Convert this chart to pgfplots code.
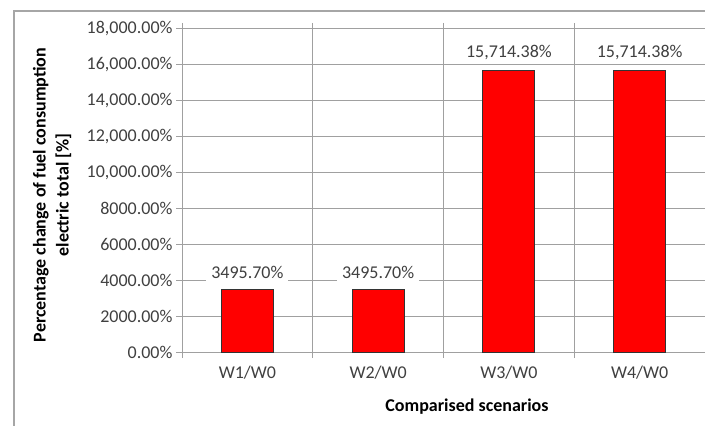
\documentclass[border=0pt]{standalone}
\usepackage{fontspec}
\setmainfont{Carlito}
\usepackage{pgfplots}
\pgfplotsset{compat=1.18}
\definecolor{gridgray}{RGB}{160,160,160}
\definecolor{framegray}{RGB}{166,166,166}
\definecolor{barred}{RGB}{255,0,0}
\definecolor{ticktext}{RGB}{64,64,64}
\begin{document}
\begin{tikzpicture}[x=1bp,y=1bp]
\path[use as bounding box] (0,0) rectangle (705,425);
% outer chart frame
\draw[framegray, line width=1.5bp] (14,-20) rectangle (740,414);
\begin{axis}[
  at={(182bp,73bp)}, anchor=south west,
  scale only axis, width=523bp, height=323bp,
  xmin=-0.5, xmax=3.5, ymin=0, ymax=18000,
  scaled y ticks=false,
  ytick={0,2000,4000,6000,8000,10000,12000,14000,16000,18000},
  yticklabels={{0.00\%},{2000.00\%},{4000.00\%},{6000.00\%},{8000.00\%},
    {10,000.00\%},{12,000.00\%},{14,000.00\%},{16,000.00\%},{18,000.00\%}},
  xtick={-0.5,0.5,1.5,2.5,3.5},
  xticklabels={},
  extra x ticks={0,1,2,3},
  extra x tick labels={W1/W0,W2/W0,W3/W0,W4/W0},
  extra x tick style={grid=none, major tick length=0pt,
    xticklabel style={yshift=-10bp}},
  xmajorgrids, ymajorgrids,
  grid style={gridgray, line width=1bp},
  axis line style={gridgray, line width=1bp},
  tick style={gridgray, line width=1bp},
  tick align=outside, major tick length=6bp,
  tick label style={font=\fontsize{18bp}{22bp}\selectfont, text=ticktext},
]
\addplot[ybar, bar width=52bp, fill=barred, draw=black!80, line width=0.8bp,
  point meta=explicit symbolic,
  nodes near coords,
  nodes near coords style={font=\fontsize{18bp}{22bp}\selectfont,
    text=ticktext, fill=white, inner xsep=5bp, inner ysep=4bp,
    anchor=south, yshift=6bp}]
  coordinates {
    (0,3495.70)  [3495.70\%]
    (1,3495.70)  [3495.70\%]
    (2,15714.38) [15,714.38\%]
    (3,15714.38) [15,714.38\%]
  };
\end{axis}
\node[rotate=90, align=center, font=\bfseries\fontsize{18bp}{23bp}\selectfont]
  at (52,230) {Percentage change of fuel consumption\\electric total [\%]};
\node[font=\bfseries\fontsize{18bp}{22bp}\selectfont] at (467,18) {Comparised scenarios};
\end{tikzpicture}
\end{document}
